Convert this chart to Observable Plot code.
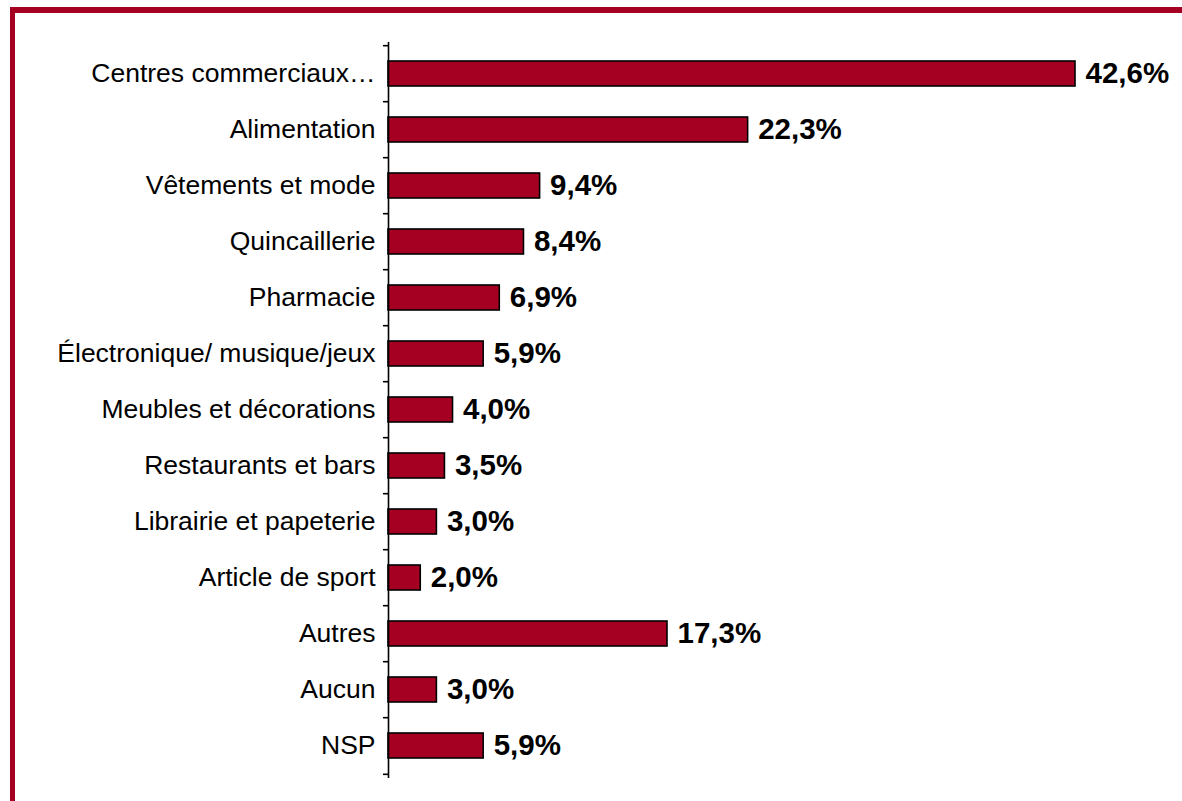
<!DOCTYPE html>
<html>
<head>
<meta charset="utf-8">
<script src="https://cdn.jsdelivr.net/npm/d3@7"></script>
<script src="https://cdn.jsdelivr.net/npm/@observablehq/plot@0.6"></script>
<style>
  html, body { margin: 0; padding: 0; background: #fff; }
  #frame {
    position: absolute;
    left: 10px;
    top: 7px;
    right: 0;
    bottom: 0;
    border-top: 6px solid #A50021;
    border-left: 5px solid #A50021;
  }
  #chart { position: absolute; left: 0; top: 0; }
  #chart svg { font-family: "Liberation Sans", Arial, sans-serif; }
</style>
</head>
<body>
<div id="frame"></div>
<div id="chart"></div>
<script>
// Commerces fréquentés (% des répondants)
const categories = [
  "Centres commerciaux…",
  "Alimentation",
  "Vêtements et mode",
  "Quincaillerie",
  "Pharmacie",
  "Électronique/ musique/jeux",
  "Meubles et décorations",
  "Restaurants et bars",
  "Librairie et papeterie",
  "Article de sport",
  "Autres",
  "Aucun",
  "NSP"
];
const values = [42.6, 22.3, 9.4, 8.4, 6.9, 5.9, 4.0, 3.5, 3.0, 2.0, 17.3, 3.0, 5.9];

const data = categories.map((c, i) => ({category: c, value: values[i]}));
const fmt = v => v.toFixed(1).replace(".", ",") + "%";

const W = 1182, H = 801;
const mTop = 42, mBottom = 23, axisX = 388;
const step = (H - mTop - mBottom) / categories.length;
const red = "#A50021";

const chart = Plot.plot({
  width: W,
  height: H,
  marginTop: mTop,
  marginBottom: mBottom,
  marginLeft: axisX,
  marginRight: 0,
  style: {background: "transparent", fontSize: "26.5px", color: "#000"},
  x: {domain: [0, 42.6], range: [axisX, 1075], axis: null},
  y: {domain: categories, paddingInner: 0.55, paddingOuter: 0.275, label: null},
  marks: [
    Plot.barX(data, {x: "value", y: "category", fill: red, stroke: "#000", strokeWidth: 1.6}),
    Plot.text(data, {
      x: "value", y: "category", text: d => fmt(d.value),
      textAnchor: "start", dx: 10, fontWeight: "bold", fontSize: 29.5, fill: "#000"
    }),
    Plot.axisY({tickSize: 0, tickPadding: 13, fontSize: 26.5, fill: "#000"}),
    // category axis line
    Plot.ruleX([0], {stroke: "#000", strokeWidth: 1.6}),
    // tick marks on the boundaries between categories
    Plot.ruleY(categories, {y: d => d, x1: -0.31, x2: 0, dy: -step / 2, stroke: "#000", strokeWidth: 1.6}),
    Plot.ruleY(categories.slice(-1), {y: d => d, x1: -0.31, x2: 0, dy: step / 2, stroke: "#000", strokeWidth: 1.6})
  ]
});
document.getElementById("chart").appendChild(chart);
</script>
</body>
</html>
